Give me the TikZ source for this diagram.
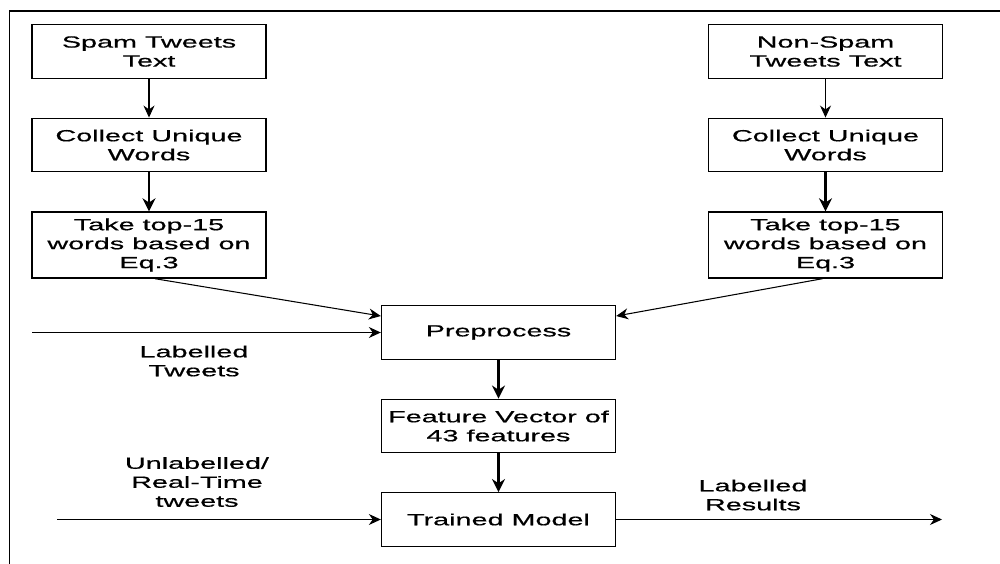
\documentclass[tikz,border=0pt]{standalone}
\usepackage{fontspec}
\setmainfont[FakeStretch=1.78,FakeBold=0.6]{Liberation Sans}
\usepackage{tikz}
\usetikzlibrary{arrows.meta,calc}

\begin{document}
\begin{tikzpicture}[x=0.02cm,y=-0.02cm,
  every node/.style={font=\fontsize{9.2}{10.8}\selectfont, align=center, inner sep=0pt},
  box/.style={draw, line width=0.8pt, minimum width=4.68cm, minimum height=1.07cm},
  tallbox/.style={box, minimum height=1.32cm},
  thin/.style={-{Stealth[length=2.4mm,width=2.2mm]}, line width=0.6pt},
  thick/.style={-{Stealth[length=2.6mm,width=2.6mm]}, line width=1.2pt}]
\useasboundingbox (0,0) rectangle (1000,564);
% Frame
\draw[line width=0.8pt] (9.5,564) -- (9.5,11) -- (1000,11);
% Points
\node[box] (spam) at (149,51.5) {Spam Tweets\\Text};
\node[box] (cuL) at (149,145) {Collect Unique\\Words};
\node[tallbox] (ttL) at (149,245) {Take top-15\\words based on\\Eq.3};
\node[box] (nonspam) at (825.5,51.5) {Non-Spam\\Tweets Text};
\node[box] (cuR) at (825.5,145) {Collect Unique\\Words};
\node[tallbox] (ttR) at (825.5,245) {Take top-15\\words based on\\Eq.3};
\node[box] (pre) at (498.5,332.5) {Preprocess};
\node[box] (fv) at (498.5,426) {Feature Vector of\\43 features};
\node[box] (tm) at (498.5,519.5) {Trained Model};
\node (lt) at (194,361) {Labelled\\Tweets};
\node (ul) at (197,482) {Unlabelled/\\Real-Time\\tweets};
\node (res) at (753,495) {Labelled\\Results};
\coordinate (ltin) at (32,332.5);
\coordinate (ulin) at (57,519.5);
\coordinate (resout) at (942,519.5);

%Lines
\draw[thin] (spam) -- (cuL);
\draw[thick] (cuL) -- (ttL);
\draw[thin] (nonspam) -- (cuR);
\draw[thick] (cuR) -- (ttR);
\draw[thin] ($(ttL.south)+(6,0)$) -- ($(pre.north west)!0.2!(pre.south west)$);
\draw[thin] ($(ttR.south)+(-3,0)$) -- ($(pre.north east)!0.2!(pre.south east)$);
\draw[thin] (ltin) -- (pre.west);
\draw[thick] (pre) -- (fv);
\draw[thick] (fv) -- (tm);
\draw[thin] (ulin) -- (tm.west);
\draw[thin] (tm.east) -- (resout);
\end{tikzpicture}
\end{document}
